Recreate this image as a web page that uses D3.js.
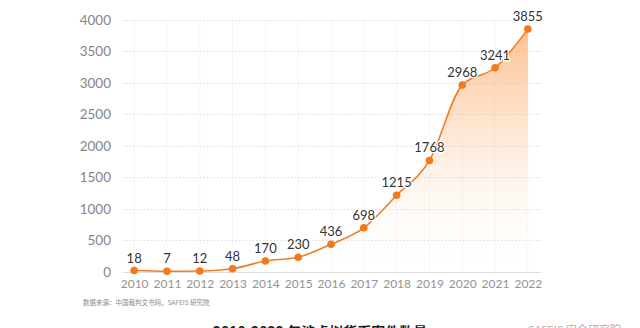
<!DOCTYPE html>
<html>
<head>
<meta charset="utf-8">
<script src="https://cdn.jsdelivr.net/npm/d3@7"></script>
<style>
  html, body { margin: 0; padding: 0; background: #fff; }
  svg { display: block; }
</style>
</head>
<body>
<svg id="chart" width="640" height="328"></svg>
<script>
// Cases involving virtual currency, by year
const years = ["2010","2011","2012","2013","2014","2015","2016","2017","2018","2019","2020","2021","2022"];
const cases = [18, 7, 12, 48, 170, 230, 436, 698, 1215, 1768, 2968, 3241, 3855];
const yTicks = [0, 500, 1000, 1500, 2000, 2500, 3000, 3500, 4000];

const svg = d3.select("#chart");
const font = "Lato, 'Noto Sans CJK SC', sans-serif";
const cjk = "'Noto Sans CJK SC', 'Noto Sans', sans-serif";

const x = d3.scalePoint().domain(years).range([123, 539]).padding(0.34);
const y = d3.scaleLinear().domain([0, 4000]).range([271.7, 20]);

// gradient for the area under the line
const defs = svg.append("defs");
const grad = defs.append("linearGradient")
  .attr("id", "areaFill")
  .attr("gradientUnits", "userSpaceOnUse")
  .attr("x1", 0).attr("y1", y(3855)).attr("x2", 0).attr("y2", y(0));
grad.append("stop").attr("offset", "0%").attr("stop-color", "#fb9a4e").attr("stop-opacity", 0.62);
grad.append("stop").attr("offset", "50%").attr("stop-color", "#fcbf8c").attr("stop-opacity", 0.3);
grad.append("stop").attr("offset", "100%").attr("stop-color", "#ffffff").attr("stop-opacity", 0);

// faint vertical guides
svg.append("g").selectAll("line").data(years).join("line")
  .attr("x1", d => x(d)).attr("x2", d => x(d))
  .attr("y1", y(4000)).attr("y2", y(0))
  .attr("stroke", "#f7f7f7").attr("stroke-width", 1);

// dotted horizontal gridlines
svg.append("g").selectAll("line").data(yTicks.filter(d => d > 0)).join("line")
  .attr("x1", 123).attr("x2", 541)
  .attr("y1", d => Math.round(y(d)) + 0.5).attr("y2", d => Math.round(y(d)) + 0.5)
  .attr("stroke", "#dcdcdc").attr("stroke-width", 1)
  .attr("stroke-dasharray", "1.5,2");

// baseline
svg.append("line")
  .attr("x1", 123).attr("x2", 541)
  .attr("y1", Math.round(y(0)) + 0.5).attr("y2", Math.round(y(0)) + 0.5)
  .attr("stroke", "#dedede").attr("stroke-width", 1);

// y axis labels
const yAxis = d3.axisLeft(y).tickValues(yTicks).tickFormat(d3.format("d")).tickSize(0).tickPadding(0);
svg.append("g")
  .attr("transform", "translate(111,0)")
  .call(yAxis)
  .call(g => g.select(".domain").remove())
  .call(g => g.selectAll("text")
    .attr("font-family", font).attr("font-size", 13.5).attr("fill", "#858585"));

// x axis labels
const xAxis = d3.axisBottom(x).tickSize(0).tickPadding(0);
svg.append("g")
  .attr("transform", "translate(0,279)")
  .call(xAxis)
  .call(g => g.select(".domain").remove())
  .call(g => g.selectAll("text")
    .attr("font-family", font).attr("font-size", 12).attr("fill", "#939393"));

const data = years.map((yr, i) => ({ yr, v: cases[i] }));

const area = d3.area()
  .x(d => x(d.yr)).y0(y(0)).y1(d => y(d.v))
  .curve(d3.curveMonotoneX);
svg.append("path").datum(data)
  .attr("d", area)
  .attr("fill", "url(#areaFill)");

const line = d3.line()
  .x(d => x(d.yr)).y(d => y(d.v))
  .curve(d3.curveMonotoneX);
svg.append("path").datum(data)
  .attr("d", line)
  .attr("fill", "none")
  .attr("stroke", "#ef7d26")
  .attr("stroke-width", 1.6);

svg.append("g").selectAll("circle").data(data).join("circle")
  .attr("cx", d => x(d.yr)).attr("cy", d => y(d.v))
  .attr("r", 3.8)
  .attr("fill", "#f27a1a");

// value labels
svg.append("g").selectAll("text").data(data).join("text")
  .attr("x", d => x(d.yr)).attr("y", d => y(d.v) - 8)
  .attr("text-anchor", "middle")
  .attr("font-family", font).attr("font-size", 13)
  .attr("fill", "#333")
  .attr("stroke", "#fff").attr("stroke-width", 2.5).attr("paint-order", "stroke")
  .text(d => d.v);

// legend (clipped at the top edge)
const lg = svg.append("g");
lg.append("line").attr("x1", 146).attr("x2", 166).attr("y1", -6).attr("y2", -6)
  .attr("stroke", "#ef7d26").attr("stroke-width", 1.6);
lg.append("circle").attr("cx", 156).attr("cy", -6).attr("r", 3.8).attr("fill", "#f27a1a");
lg.append("text").attr("x", 171).attr("y", -2)
  .attr("font-family", cjk).attr("font-size", 13).attr("fill", "#555")
  .text("案件数量");

// source note
svg.append("text")
  .attr("x", 83).attr("y", 305)
  .attr("font-family", cjk).attr("font-size", 6.5).attr("fill", "#8a8a8a")
  .text("数据来源：中国裁判文书网，SAFEIS 研究院");

// title
svg.append("text")
  .attr("x", 320).attr("y", 337)
  .attr("text-anchor", "middle")
  .attr("font-family", cjk).attr("font-size", 14).attr("font-weight", "bold")
  .attr("fill", "#1a1a1a")
  .text("2010-2022 年涉虚拟货币案件数量");

// credit at the bottom right
svg.append("text")
  .attr("x", 528).attr("y", 334)
  .attr("font-family", cjk).attr("font-size", 11).attr("fill", "#b0b0b0")
  .text("SAFEIS 安全研究院");
</script>
</body>
</html>
